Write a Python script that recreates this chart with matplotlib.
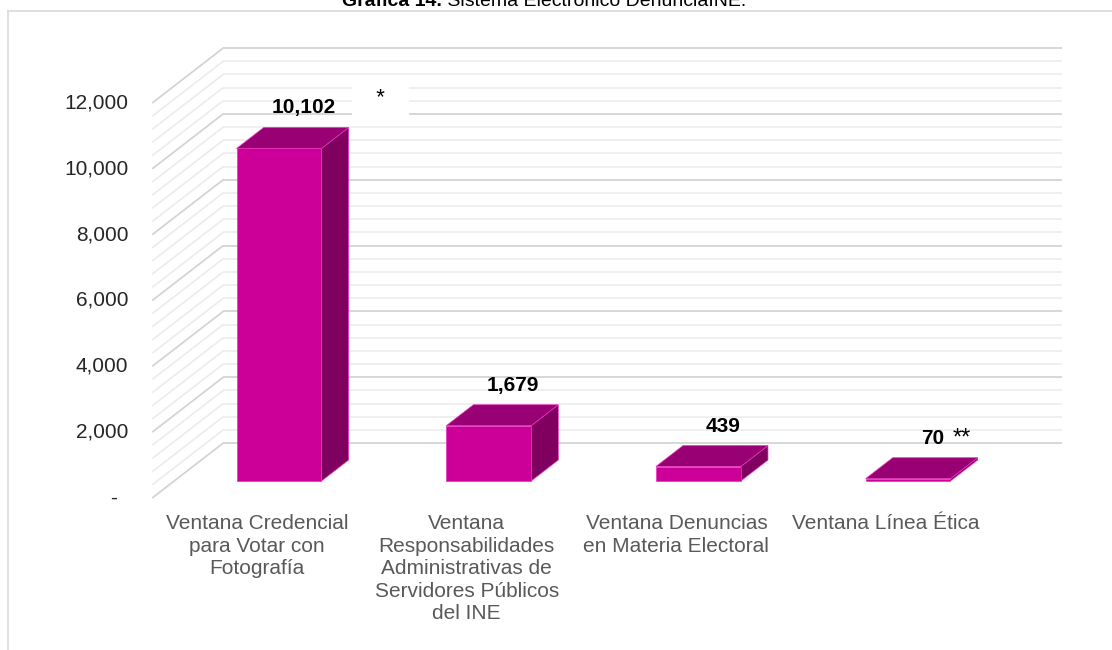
import matplotlib
matplotlib.use("Agg")
import matplotlib.pyplot as plt
from matplotlib.patches import Polygon

plt.rcParams['font.family'] = ['Liberation Sans', 'DejaVu Sans']

# ---- data ----
categories = [
    "Ventana Credencial\npara Votar con\nFotografía",
    "Ventana\nResponsabilidades\nAdministrativas de\nServidores Públicos\ndel INE",
    "Ventana Denuncias\nen Materia Electoral",
    "Ventana Línea Ética",
]
values = [10102, 1679, 439, 70]
value_labels = ["10,102", "1,679", "439", "70"]
ytick_values = [0, 2000, 4000, 6000, 8000, 10000, 12000]
ytick_labels = ["-", "2,000", "4,000", "6,000", "8,000", "10,000", "12,000"]
minor_step = 400
title_bold = "Gráfica 14."
title_rest = " Sistema Electrónico DenunciaINE."

# ---- styling / geometry ----
W, H = 1112, 650
FRONT = '#CC0099'
TOP = '#990073'
SIDE = '#800060'
EDGE = '#E633BF'
MAJOR = '#D4D4D4'
MINOR = '#ECECEC'
DEPTH_X = 0.339    # back-wall shift in category units
DEPTH_V = 1670     # back-wall shift in value units
BAR_W = 0.405
D0, D1 = 0.309, 0.691
FS = 15

fig = plt.figure(figsize=(W / 100, H / 100), dpi=100)
ax = fig.add_axes([152.2 / W, (H - 498) / H, 838.7 / W, 395 / H])
ax.set_xlim(-0.5, len(categories) - 0.5)
ax.set_ylim(0, ytick_values[-1])
ax.axis('off')


def P(x, v, d):
    return (x + d * DEPTH_X, v + d * DEPTH_V)


# frame
fig.add_artist(plt.Line2D([8 / W, 8 / W], [0, 1 - 11 / H], color='#D9D9D9', lw=1.2,
                          transform=fig.transFigure))
fig.add_artist(plt.Line2D([8 / W, 1], [1 - 11 / H, 1 - 11 / H], color='#D9D9D9', lw=1.2,
                          transform=fig.transFigure))

# title (partially cut at the top, as in the source)
t1 = fig.text(342 / W, 1 - 6 / H, title_bold, fontsize=14, fontweight='bold',
              ha='left', va='baseline', color='black')
ax.annotate(title_rest, xy=(1, 0), xycoords=t1, ha='left', va='bottom',
            fontsize=14, color='black', annotation_clip=False)

# gridlines on back wall and side wall
xl, xr = -0.5, len(categories) - 0.5
v = 0
while v <= ytick_values[-1]:
    major = (v % 2000 == 0)
    col = MAJOR if major else MINOR
    lw = 1.3 if major else 1.2
    x0, y0 = P(xl, v, 1)
    x1, y1 = P(xr, v, 1)
    ax.plot([x0, x1], [y0, y1], color=col, lw=lw, clip_on=False, zorder=1,
            solid_capstyle='butt')
    xa, ya = P(xl, v, 0)
    ax.plot([xa, x0], [ya, y0], color=col, lw=lw, clip_on=False, zorder=1,
            solid_capstyle='butt')
    v += minor_step

# bars
label_artists = []
for i, val in enumerate(values):
    l, r = i - BAR_W / 2, i + BAR_W / 2
    front = [P(l, 0, D0), P(r, 0, D0), P(r, val, D0), P(l, val, D0)]
    top = [P(l, val, D0), P(r, val, D0), P(r, val, D1), P(l, val, D1)]
    side = [P(r, 0, D0), P(r, 0, D1), P(r, val, D1), P(r, val, D0)]
    for poly, col in ((side, SIDE), (top, TOP), (front, FRONT)):
        ax.add_patch(Polygon(poly, closed=True, facecolor=col, edgecolor=EDGE,
                             lw=0.5, clip_on=False, zorder=3))
    cx, cy = P(i, val, (D0 + D1) / 2)
    la = ax.annotate(value_labels[i], xy=(cx, cy), xytext=(11, 30),
                     textcoords='offset pixels', ha='center', va='center',
                     fontsize=FS, fontweight='bold', color='black',
                     annotation_clip=False, zorder=5)
    label_artists.append(la)

# footnote markers
ax.annotate("\u00a0\u00a0*\u00a0\u00a0", xy=(0.5, 0.5), xycoords=label_artists[0],
            xytext=(77, 9), textcoords='offset pixels', ha='center', va='center',
            fontsize=FS + 1, color='black', zorder=4,
            bbox=dict(boxstyle='square,pad=0.55', fc='white', ec='none'))
ax.annotate("**", xy=(1, 0.5), xycoords=label_artists[3],
            xytext=(8, 0), textcoords='offset pixels', ha='left', va='center',
            fontsize=FS + 2, color='black', zorder=5)

# y tick labels
for tv, tl in zip(ytick_values, ytick_labels):
    off = -35 if tl == '-' else -24
    ax.annotate(tl, xy=(xl, tv), xytext=(off, 0), textcoords='offset pixels',
                ha='right', va='center', fontsize=FS, color='#262626',
                annotation_clip=False)

# category labels
for i, c in enumerate(categories):
    ax.annotate(c, xy=(i, 0), xytext=(0, -16), textcoords='offset pixels',
                ha='center', va='top', multialignment='center',
                fontsize=FS, color='#595959', linespacing=1.24,
                annotation_clip=False)

fig.savefig('out.png', dpi=100, facecolor='white')
